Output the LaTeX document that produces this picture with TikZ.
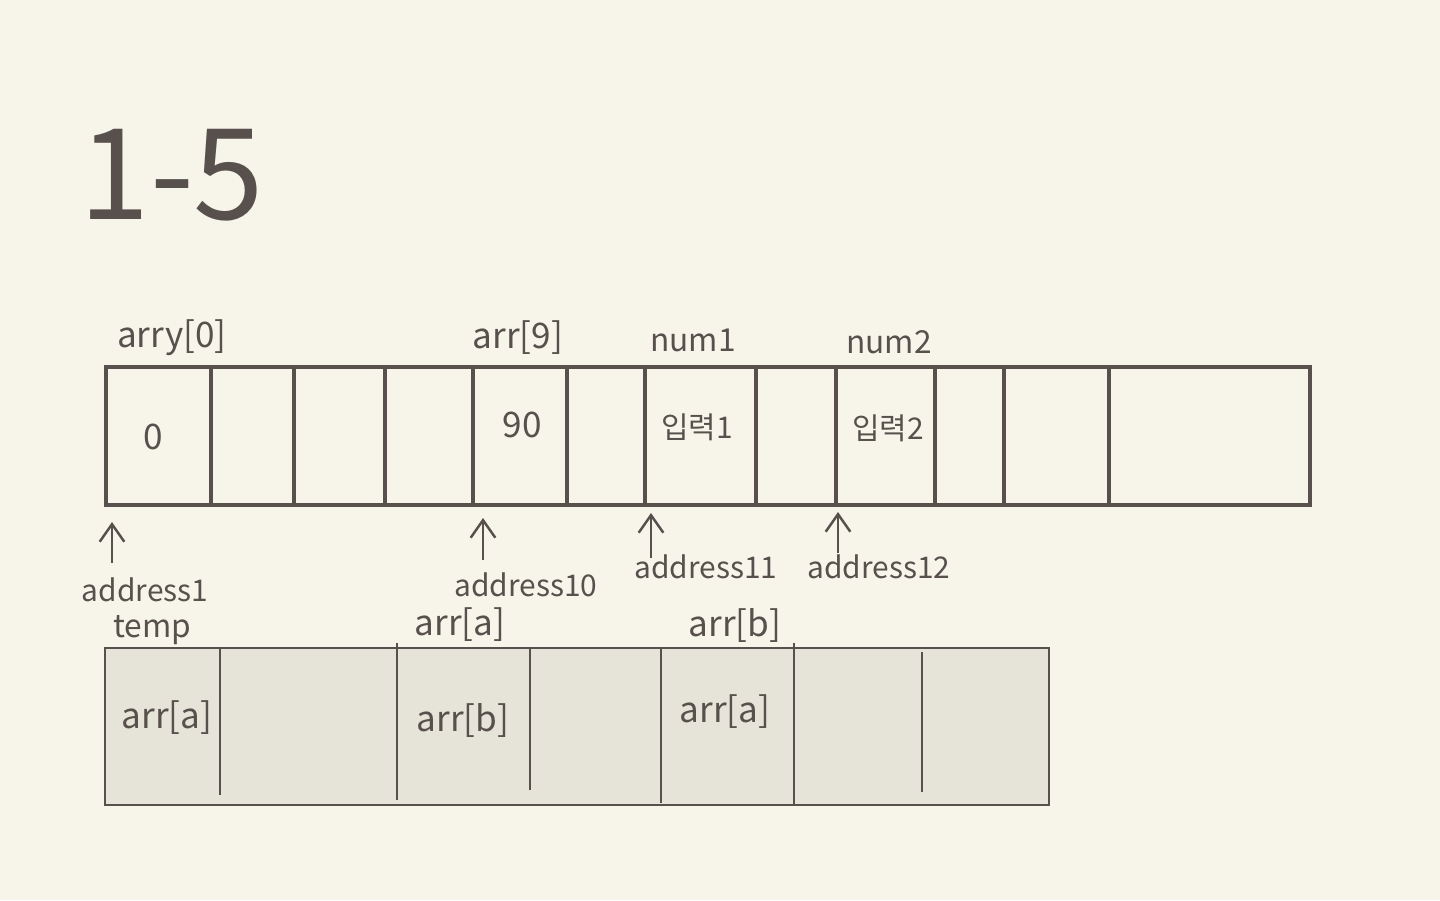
\documentclass[tikz,border=0pt]{standalone}
\usepackage{fontspec}
\setmainfont{Noto Sans CJK KR}
\usetikzlibrary{arrows.meta}

\definecolor{paper}{HTML}{F7F5EA}
\definecolor{ink}{HTML}{57504C}
\definecolor{cellfill}{HTML}{E6E4D8}

\begin{document}
\begin{tikzpicture}[x=0.01cm, y=-0.01cm, font=\fontsize{10}{12}\selectfont, text=ink,
    addr/.style={font=\fontsize{8.5}{10}\selectfont},
    up/.style={ink, line width=0.7pt, -{Straight Barb[length=5pt,width=7pt]}}]

    % Paper: the whole 1440 x 900 sheet
    \fill[paper] (0,0) rectangle (1440,900);
    \useasboundingbox (0,0) rectangle (1440,900);

    % Line widths of the two arrays
    \def\thick{1.4pt}
    \def\thin{0.6pt}

    % Title
    \node[font=\fontsize{36}{40}\selectfont] (title) at (172,175) {1-5};

    % Top array: outer frame and the cell walls
    \draw[ink, line width=\thick] (106,367) rectangle (1310,505);
    \foreach \x in {211,294,385,473,567,645,756,836,935,1004,1109}
        \draw[ink, line width=\thick] (\x,367) -- (\x,505);

    % Names above the top array
    \node (arr0)  at (172,338) {arry[0]};
    \node (arr9)  at (518,338) {arr[9]};
    \node[font=\fontsize{9}{11}\selectfont] (num1)  at (693,340) {num1};
    \node[font=\fontsize{9}{11}\selectfont] (num2)  at (889,342) {num2};

    % Values inside the top array
    \node (v0)   at (153,437) {0};
    \node (v9)   at (522,425) {90};
    \node[addr] (in1)  at (697,427) {입력1};
    \node[addr] (in2)  at (888,428) {입력2};

    % Addresses under the top array
    \node[addr] (ad1)  at (145,590) {address1};
    \node[addr] (ad10) at (526,585) {address10};
    \node[addr] (ad11) at (706,567) {address11};
    \node[addr] (ad12) at (879,567) {address12};

    % Arrow feet and tips (tips touch the bottom edge)
    \coordinate (f1)  at (112,563);  \coordinate (t1)  at (112,522);
    \coordinate (f10) at (483,560);  \coordinate (t10) at (483,518);
    \coordinate (f11) at (651,558);  \coordinate (t11) at (651,513);
    \coordinate (f12) at (838,553);  \coordinate (t12) at (838,512);

    \draw[up] (f1)  -- (t1);
    \draw[up] (f10) -- (t10);
    \draw[up] (f11) -- (t11);
    \draw[up] (f12) -- (t12);

    % Bottom array: shaded frame and its walls
    \filldraw[fill=cellfill, draw=ink, line width=\thin] (105,648) rectangle (1049,805);
    \draw[ink, line width=\thin] (220,648) -- (220,795);
    \draw[ink, line width=\thin] (397,643) -- (397,800);
    \draw[ink, line width=\thin] (530,648) -- (530,790);
    \draw[ink, line width=\thin] (661,648) -- (661,803);
    \draw[ink, line width=\thin] (794,643) -- (794,805);
    \draw[ink, line width=\thin] (922,652) -- (922,792);

    % Names above the bottom array
    \node[font=\fontsize{9}{11}\selectfont] (temp) at (152,630) {temp};
    \node (ta)   at (460,625) {arr[a]};
    \node (tb)   at (735,625) {arr[b]};

    % Values inside the bottom array
    \node (c1) at (167,718) {arr[a]};
    \node (c2) at (463,720) {arr[b]};
    \node (c3) at (725,712) {arr[a]};

\end{tikzpicture}
\end{document}
